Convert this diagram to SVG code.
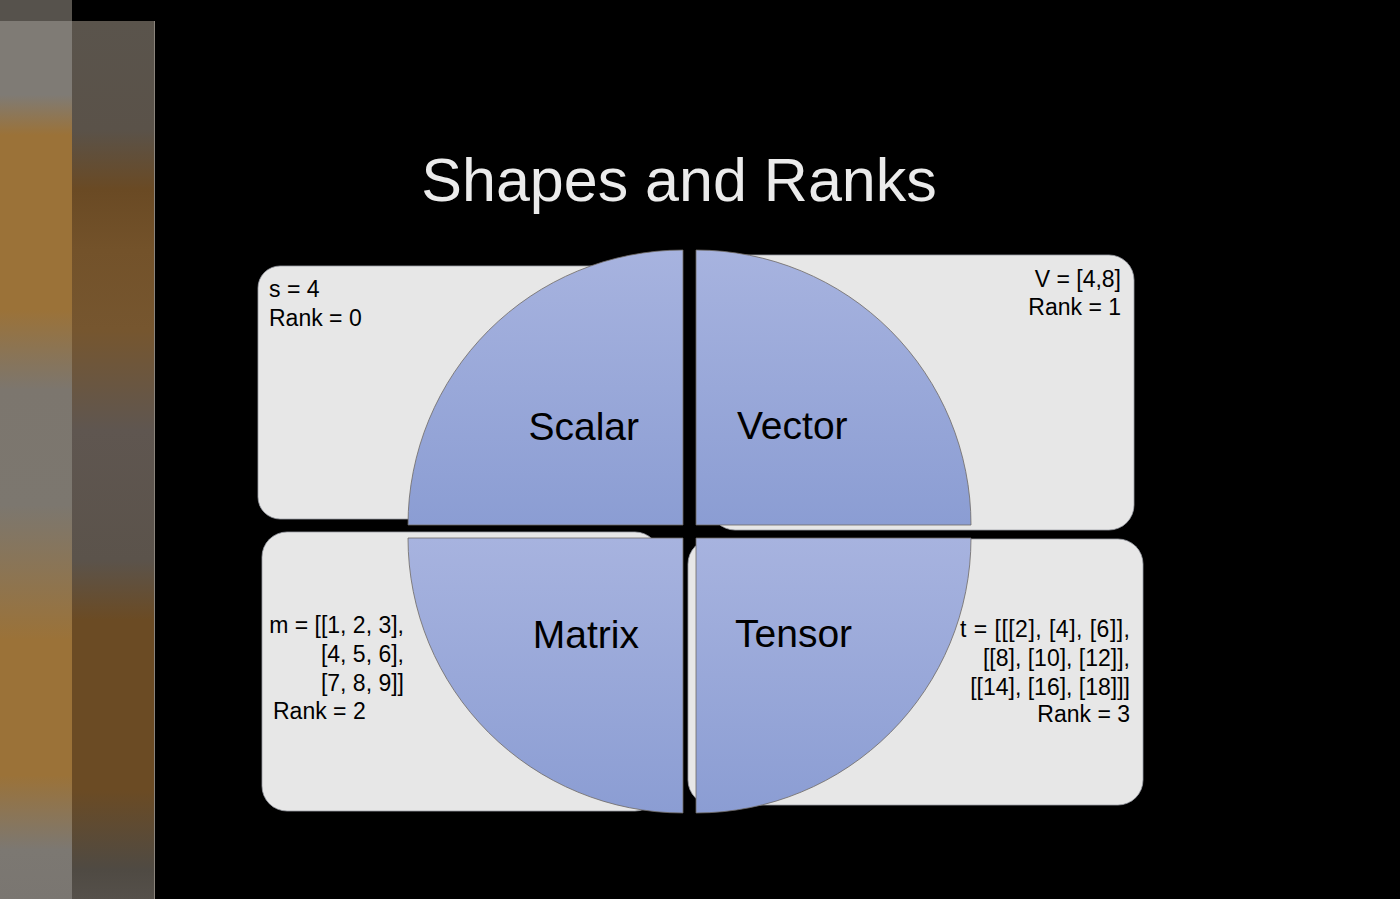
<svg xmlns="http://www.w3.org/2000/svg" width="1400" height="899" viewBox="0 0 1400 899">
<style>
.box{fill:#e7e7e7;stroke:#9c9ea6;stroke-width:0.8}
.quad{fill:url(#qg);stroke:#6e6a64;stroke-width:0.8}
.lbl{font-family:"Liberation Sans",Arial,Helvetica,sans-serif;font-size:39px;fill:#000}
.val{font-family:"Liberation Sans",Arial,Helvetica,sans-serif;font-size:23px;fill:#000}
.title{font-family:"Liberation Sans",Arial,Helvetica,sans-serif;font-size:61px;fill:#ebebeb}
</style>
<defs>
<linearGradient id="qg" x1="0" y1="0" x2="0" y2="1">
<stop offset="0" stop-color="#a7b3df"/>
<stop offset="0.5" stop-color="#99a8d9"/>
<stop offset="1" stop-color="#8b9dd3"/>
</linearGradient>
<linearGradient id="c1" gradientUnits="userSpaceOnUse" x1="0" y1="21" x2="0" y2="899">
<stop offset="0" stop-color="#7f7b75"/>
<stop offset="0.084" stop-color="#7f7b75"/>
<stop offset="0.13" stop-color="#9b7238"/>
<stop offset="0.329" stop-color="#9b7238"/>
<stop offset="0.42" stop-color="#7c766e"/>
<stop offset="0.551" stop-color="#7c776f"/>
<stop offset="0.705" stop-color="#9b7238"/>
<stop offset="0.859" stop-color="#9b7238"/>
<stop offset="0.944" stop-color="#7c7872"/>
<stop offset="1" stop-color="#7a7671"/>
</linearGradient>
<linearGradient id="c2" gradientUnits="userSpaceOnUse" x1="0" y1="21" x2="0" y2="899">
<stop offset="0" stop-color="#5a544c"/>
<stop offset="0.124" stop-color="#5a5249"/>
<stop offset="0.192" stop-color="#6a4a24"/>
<stop offset="0.261" stop-color="#73522a"/>
<stop offset="0.352" stop-color="#76562f"/>
<stop offset="0.466" stop-color="#5f5650"/>
<stop offset="0.614" stop-color="#5b534b"/>
<stop offset="0.682" stop-color="#6b4b24"/>
<stop offset="0.876" stop-color="#6b4b24"/>
<stop offset="0.967" stop-color="#4f4a43"/>
<stop offset="1" stop-color="#55504a"/>
</linearGradient>
</defs>
<rect x="0" y="0" width="1400" height="899" fill="#000"/>
<g id="side-strip">
<rect x="0" y="0" width="72" height="21" fill="#56524c"/>
<rect x="0" y="21" width="72" height="878" fill="url(#c1)"/>
<rect x="72" y="21" width="83" height="878" fill="url(#c2)"/>
<line x1="154.5" y1="21" x2="154.5" y2="899" stroke="#8a847c" stroke-width="1"/>
</g>
<text class="title" x="679" y="201" text-anchor="middle">Shapes and Ranks</text>
<g id="connectors"/>
<g id="scalar">
<rect class="box" x="258" y="266" width="412" height="253" rx="22"/>
<path class="quad" d="M683,525 L408,525 A275,275 0 0 1 683,250 Z"/>
<text class="lbl" x="639" y="440" text-anchor="end">Scalar</text>
<text class="val" x="269" y="297">s = 4</text>
<text class="val" x="269" y="326">Rank = 0</text>
</g>
<g id="vector">
<rect class="box" x="710" y="255" width="424" height="275" rx="25"/>
<path class="quad" d="M696,525 L696,250 A275,275 0 0 1 971,525 Z"/>
<text class="lbl" x="737" y="439">Vector</text>
<text class="val" x="1121" y="287" text-anchor="end">V = [4,8]</text>
<text class="val" x="1121" y="315" text-anchor="end">Rank = 1</text>
</g>
<g id="matrix">
<rect class="box" x="262" y="532" width="398" height="279" rx="25"/>
<path class="quad" d="M683,538 L683,813 A275,275 0 0 1 408,538 Z"/>
<text class="lbl" x="639" y="648" text-anchor="end">Matrix</text>
<text class="val" x="404" y="633" text-anchor="end">m = [[1, 2, 3],</text>
<text class="val" x="404" y="662" text-anchor="end">[4, 5, 6],</text>
<text class="val" x="404" y="691" text-anchor="end">[7, 8, 9]]</text>
<text class="val" x="273" y="719">Rank = 2</text>
</g>
<g id="tensor">
<rect class="box" x="688" y="539" width="455" height="266" rx="25"/>
<path class="quad" d="M696,538 L971,538 A275,275 0 0 1 696,813 Z"/>
<text class="lbl" x="735" y="647">Tensor</text>
<text class="val" x="960" y="637" textLength="170" lengthAdjust="spacing">t = [[[2], [4], [6]],</text>
<text class="val" x="1130" y="666" text-anchor="end">[[8], [10], [12]],</text>
<text class="val" x="1130" y="695" text-anchor="end">[[14], [16], [18]]]</text>
<text class="val" x="1130" y="722" text-anchor="end">Rank = 3</text>
</g>
</svg>
